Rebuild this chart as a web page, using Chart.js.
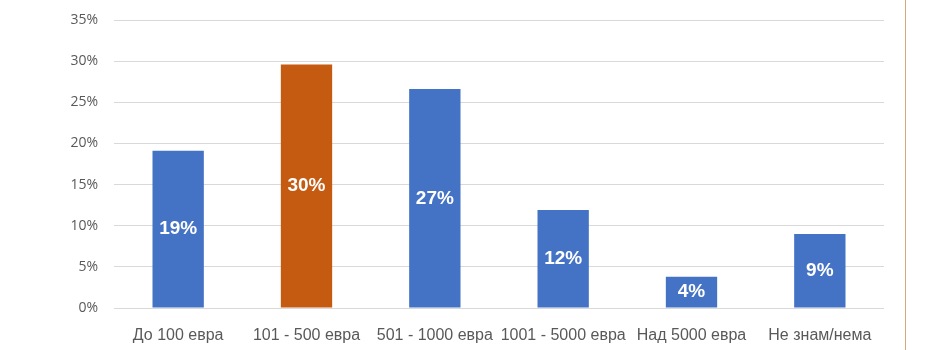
<!DOCTYPE html>
<html>
<head>
<meta charset="utf-8">
<script src="https://cdn.jsdelivr.net/npm/chart.js@4/dist/chart.umd.min.js"></script>
<style>
  html, body { margin: 0; padding: 0; background: #ffffff; }
  #wrap { width: 950px; height: 350px; position: relative; }
</style>
</head>
<body>
<div id="wrap"><canvas id="budgetChart"></canvas></div>
<script>
const categories = ['До 100 евра', '101 - 500 евра', '501 - 1000 евра', '1001 - 5000 евра', 'Над 5000 евра', 'Не знам/нема'];
const shares = [19.1, 29.6, 26.6, 11.9, 3.8, 9.0];
const barColors = ['#4472C4', '#C55A11', '#4472C4', '#4472C4', '#4472C4', '#4472C4'];
const yTicks = [0, 5, 10, 15, 20, 25, 30, 35];

// white percentage inside each bar, centred vertically
const barValueLabels = {
  id: 'barValueLabels',
  afterDatasetsDraw(chart) {
    const ctx = chart.ctx;
    const meta = chart.getDatasetMeta(0);
    ctx.save();
    ctx.fillStyle = '#ffffff';
    ctx.font = 'bold 19px "Liberation Sans Narrow", "Liberation Sans", Arial, sans-serif';
    ctx.textAlign = 'center';
    ctx.textBaseline = 'middle';
    meta.data.forEach((bar, i) => {
      const mid = (bar.y + bar.base) / 2;
      ctx.fillText(Math.round(shares[i]) + '%', bar.x, mid);
    });
    ctx.restore();
  }
};

// thin slide-edge rule on the right
const edgeRule = {
  id: 'edgeRule',
  afterDraw(chart) {
    const ctx = chart.ctx;
    ctx.save();
    ctx.strokeStyle = '#D9A57A';
    ctx.lineWidth = 1;
    ctx.beginPath();
    ctx.moveTo(905.5, 0);
    ctx.lineTo(905.5, chart.height);
    ctx.stroke();
    ctx.restore();
  }
};

new Chart(document.getElementById('budgetChart').getContext('2d'), {
  type: 'bar',
  data: {
    labels: categories,
    datasets: [{
      data: shares,
      backgroundColor: barColors,
      borderWidth: 0,
      categoryPercentage: 1,
      barPercentage: 0.4
    }]
  },
  options: {
    responsive: true,
    maintainAspectRatio: false,
    animation: false,
    layout: { padding: { top: 20, right: 66, left: 0, bottom: 0 } },
    plugins: {
      legend: { display: false },
      tooltip: { enabled: false }
    },
    scales: {
      x: {
        grid: { display: false },
        border: { display: false },
        ticks: {
          color: '#595959',
          padding: 10,
          maxRotation: 0,
          font: { family: '"Liberation Sans", Arial, sans-serif', size: 16 }
        },
        afterFit(scale) {
          scale.height = 42;
          scale.paddingLeft = 0;
          scale.paddingRight = 0;
        }
      },
      y: {
        min: 0,
        max: 35,
        afterBuildTicks(scale) { scale.ticks = yTicks.map(v => ({ value: v })); },
        grid: { color: '#D9D9D9', lineWidth: 1, drawTicks: false },
        border: { display: false },
        ticks: {
          color: '#595959',
          padding: 16,
          font: { family: '"Open Sans", sans-serif', size: 14 },
          callback: v => v + '%'
        },
        afterFit(scale) {
          scale.width = 114;
          scale.paddingTop = 0;
          scale.paddingBottom = 0;
        }
      }
    }
  },
  plugins: [barValueLabels, edgeRule]
});
</script>
</body>
</html>
